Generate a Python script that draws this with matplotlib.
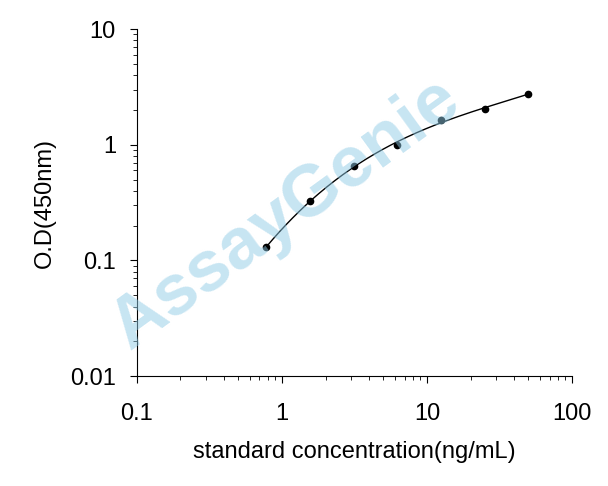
import numpy as np
import matplotlib
matplotlib.use("Agg")
import matplotlib.pyplot as plt

conc = [0.78, 1.56, 3.125, 6.25, 12.5, 25, 50]
od = [0.13, 0.33, 0.65, 1.0, 1.65, 2.05, 2.75]

plt.rcParams['font.family'] = ['Liberation Sans', 'DejaVu Sans']
fig = plt.figure(figsize=(6.08, 4.86), dpi=100)
ax = fig.add_axes([0.225, 0.226, 0.716, 0.714])

lx, ly = np.log10(conc), np.log10(od)
coef = np.polyfit(lx, ly, 3)
xs = np.linspace(lx[0], lx[-1], 200)
ax.plot(10**xs, 10**np.polyval(coef, xs), color='black', lw=1)
ax.plot(conc, od, 'o', color='black', ms=4.5)

ax.set_xscale('log'); ax.set_yscale('log')
ax.set_xlim(0.1, 100); ax.set_ylim(0.01, 10)
ax.set_xticks([0.1, 1, 10, 100]); ax.set_xticklabels(['0.1', '1', '10', '100'])
ax.set_yticks([0.01, 0.1, 1, 10]); ax.set_yticklabels(['0.01', '0.1', '1', '10'])
for s in ['top', 'right']:
    ax.spines[s].set_visible(False)
ax.tick_params(which='both', direction='out', labelsize=17)
ax.tick_params(axis='x', which='major', length=5, pad=14)
ax.tick_params(axis='y', which='major', length=5, pad=10)
ax.tick_params(which='minor', length=3)
ax.set_xlabel('standard concentration(ng/mL)', fontsize=17, labelpad=12)
ax.set_ylabel('O.D(450nm)', fontsize=17, labelpad=10)

fig.text(0.47, 0.56, 'AssayGenie', fontsize=52, fontweight='bold', color='#8fcbe6',
         alpha=0.5, rotation=36, ha='center', va='center')
fig.savefig('out.png', dpi=100)
